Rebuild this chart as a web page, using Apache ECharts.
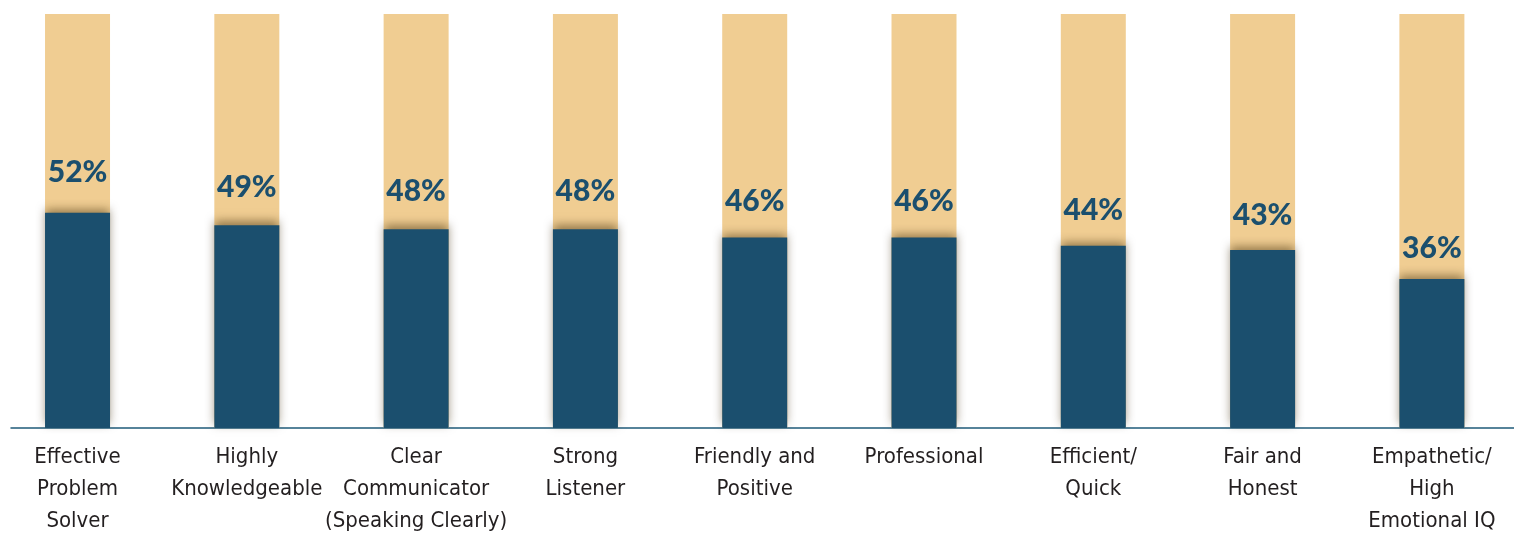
<!DOCTYPE html>
<html>
<head>
<meta charset="utf-8">
<style>
  html, body { margin: 0; padding: 0; background: #ffffff; }
  #chart { width: 1514px; height: 534px; }
</style>
<script src="https://cdn.jsdelivr.net/npm/echarts@6/dist/echarts.min.js"></script>
</head>
<body>
<div id="chart"></div>
<script>
// Share of respondents naming each trait
const categories = [
  'Effective\nProblem\nSolver',
  'Highly\nKnowledgeable',
  'Clear\nCommunicator\n(Speaking Clearly)',
  'Strong\nListener',
  'Friendly and\nPositive',
  'Professional',
  'Efficient/\nQuick',
  'Fair and\nHonest',
  'Empathetic/\nHigh\nEmotional IQ'
];
const shares = [52, 49, 48, 48, 46, 46, 44, 43, 36];
const total = 100;

const DARK = '#1b4f6e';
const TAN = '#f0cd92';

const chart = echarts.init(document.getElementById('chart'));

// Category slots sit on integer positions of a value axis so the
// baseline can start a little inside the left edge of the page.
const slots = categories.map((_, i) => i);

chart.setOption({
  animation: false,
  grid: {
    left: 11, right: 0, top: 14, bottom: 106,
    containLabel: false,
    outerBoundsMode: 'none'
  },
  xAxis: {
    type: 'value',
    min: -0.393,
    max: 8.485,
    splitLine: { show: false },
    axisLine: { show: true, onZero: false, lineStyle: { color: '#1f5b7a', width: 1.5 } },
    axisTick: { show: false },
    axisLabel: {
      customValues: slots,
      formatter: v => categories[Math.round(v)] || '',
      margin: 13,
      color: '#231f20',
      fontFamily: '"Liberation Sans Narrow", "DejaVu Sans Condensed", sans-serif',
      fontSize: 22,
      lineHeight: 32
    }
  },
  yAxis: {
    type: 'value',
    min: 0,
    max: total,
    show: false,
    splitLine: { show: false }
  },
  series: [
    {
      // full 100% column behind each share
      type: 'bar',
      z: 2,
      barWidth: 65,
      barGap: '-100%',
      data: slots.map(i => [i, total]),
      itemStyle: { color: TAN },
      label: { show: false },
      silent: true
    },
    {
      type: 'bar',
      z: 3,
      barWidth: 65,
      barGap: '-100%',
      data: shares.map((v, i) => ({
        value: [slots[i], v],
        label: { distance: 16 + (v - 36) * 0.56 }
      })),
      itemStyle: {
        color: DARK,
        shadowBlur: 9,
        shadowColor: 'rgba(60, 40, 5, 0.5)',
        shadowOffsetY: -4
      },
      label: {
        show: true,
        position: 'top',
        formatter: p => p.value[1] + '%',
        color: DARK,
        fontFamily: 'Lato, "DejaVu Sans", sans-serif',
        fontWeight: 900,
        fontSize: 30,
        lineHeight: 30
      }
    }
  ]
});
</script>
</body>
</html>
